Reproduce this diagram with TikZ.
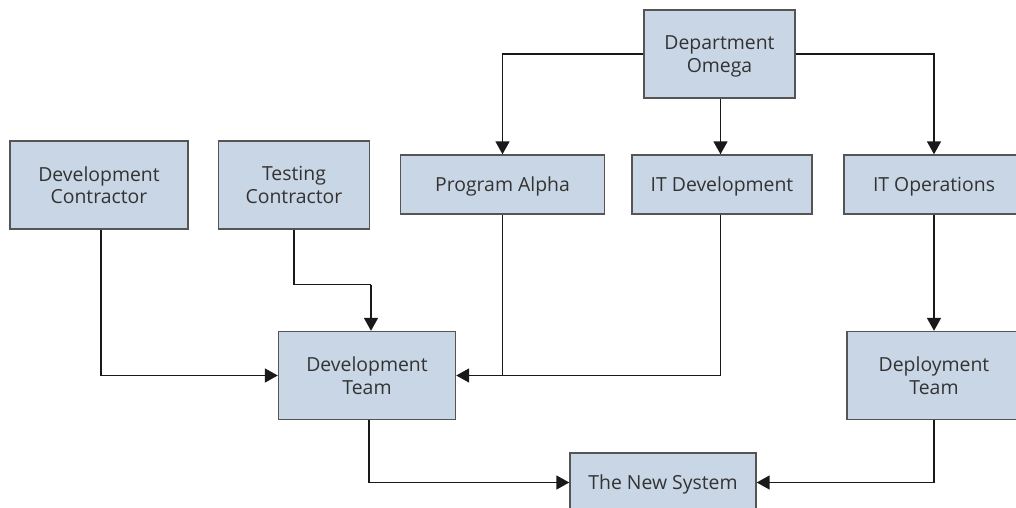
\documentclass[tikz,border=0pt]{standalone}
\usepackage{fontspec}
\setmainfont{Open Sans}
\usetikzlibrary{arrows.meta}
\definecolor{boxfill}{RGB}{201,214,229}
\definecolor{boxline}{RGB}{85,85,85}
\definecolor{txt}{RGB}{51,51,51}
\tikzset{
  box/.style={draw=boxline, line width=1.4pt, fill=boxfill, text=txt, align=center,
    font=\fontsize{19.4}{22.7}\selectfont, inner sep=0pt, text depth=0pt},
  conn/.style={draw=black!90, line width=1.7pt},
  arr/.style={conn, -{Triangle[length=13pt,width=14pt]}}
}
\begin{document}
\begin{tikzpicture}[x=1pt,y=-1pt]
\useasboundingbox (0,0) rectangle (1016,508);
\clip (0,0) rectangle (1016,508);
\node[box, minimum width=151, minimum height=88] (omega) at (719.5,54) {Department\\Omega};
\node[box, minimum width=178, minimum height=88] (devc) at (99,185) {Development\\Contractor};
\node[box, minimum width=151, minimum height=88] (testc) at (294,185) {Testing\\Contractor};
\node[box, minimum width=204, minimum height=59] (alpha) at (502.5,184.5) {Program Alpha};
\node[box, minimum width=180, minimum height=59] (itdev) at (722,184.5) {IT Development};
\node[box, minimum width=180, minimum height=59] (itops) at (934,184.5) {IT Operations};
\node[box, minimum width=177, minimum height=88] (devteam) at (367,375.5) {Development\\Team};
\node[box, minimum width=174, minimum height=88] (deploy) at (934,375.5) {Deployment\\Team};
\node[box, minimum width=186, minimum height=59] (newsys) at (663,482.5) {The New System};
\coordinate (tbend) at (294,284.5);
\coordinate (tdown) at (371,284.5);
\draw[arr] (omega.west) -| (alpha.north);
\draw[arr] (omega.south -| 720.5,0) -- (itdev.north -| 720.5,0);
\draw[arr] (omega.east) -| (itops.north);
\draw[arr] (itops.south) -- (deploy.north);
\draw[arr] (devc.south -| 101,0) |- (devteam.west);
\draw[conn] (testc.south) -- (tbend) -- (tdown);
\draw[arr] (tdown) -- (tdown |- devteam.north);
\draw[conn] (alpha.south) -- (alpha.south |- devteam.east);
\draw[arr] (itdev.south -| 720.5,0) |- (devteam.east);
\draw[arr] (devteam.south -| 369,0) |- (newsys.west);
\draw[arr] (deploy.south) |- (newsys.east);
\end{tikzpicture}
\end{document}
